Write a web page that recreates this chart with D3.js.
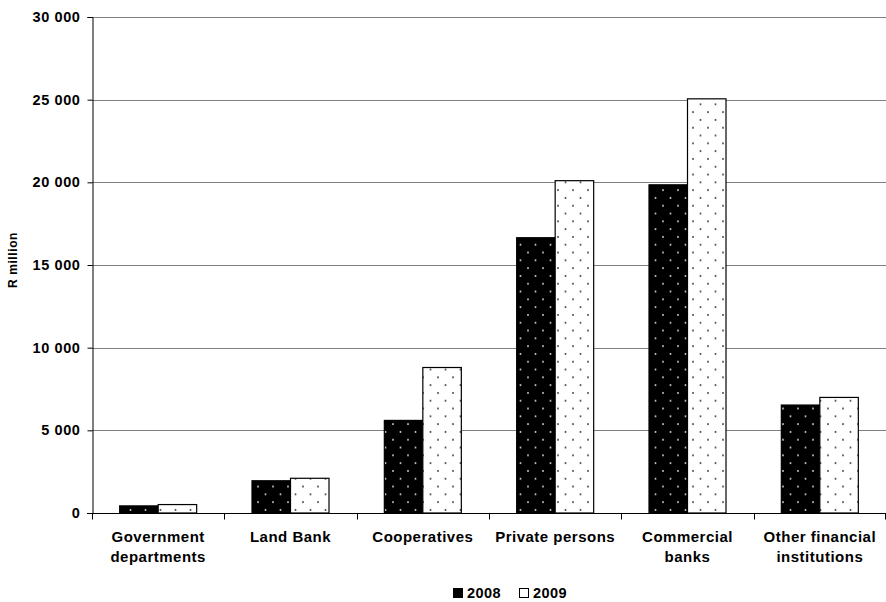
<!DOCTYPE html>
<html>
<head>
<meta charset="utf-8">
<script src="https://cdn.jsdelivr.net/npm/d3@7"></script>
<style>
  body { margin: 0; background: #fff; }
  svg text { font-family: "Liberation Sans", Arial, sans-serif; font-weight: bold; fill: #000; }
</style>
</head>
<body>
<svg id="chart" width="886" height="602"></svg>
<script>
// Data
const categories = [
    ['Government', 'departments'],
    ['Land Bank'],
    ['Cooperatives'],
    ['Private persons'],
    ['Commercial', 'banks'],
    ['Other financial', 'institutions']
];
const years = ['2008', '2009'];
const values2008 = [430, 1950, 5600, 16650, 19850, 6530];
const values2009 = [510, 2100, 8800, 20100, 25050, 6990];
const yTicks = [0, 5000, 10000, 15000, 20000, 25000, 30000];

const svg = d3.select('#chart');
const margin = { left: 92, right: 0, top: 17, bottom: 89 };
const width = 886, height = 602;

const x = d3.scaleBand()
    .domain(d3.range(categories.length))
    .range([margin.left, width - margin.right]);

const xInner = d3.scaleBand()
    .domain(years)
    .range([0, 77])
    .padding(0);

const y = d3.scaleLinear()
    .domain([0, 30000])
    .range([height - margin.bottom, margin.top]);

// Patterns: black with light dots, white with dark dots
const defs = svg.append('defs');
function dotPattern(id, bg, dot) {
    const p = defs.append('pattern')
        .attr('id', id)
        .attr('patternUnits', 'userSpaceOnUse')
        .attr('width', 15)
        .attr('height', 15.6);
    p.append('rect').attr('width', 15).attr('height', 15.6).attr('fill', bg);
    p.append('circle').attr('cx', 3).attr('cy', 3).attr('r', 1).attr('fill', dot);
    p.append('circle').attr('cx', 10.5).attr('cy', 10.8).attr('r', 1).attr('fill', dot);
}
dotPattern('pat2008', '#000', '#ccc');
dotPattern('pat2009', '#fff', '#444');

// Gridlines
svg.append('g')
    .selectAll('line')
    .data(yTicks.filter(d => d > 0))
    .enter().append('line')
    .attr('x1', margin.left)
    .attr('x2', width - margin.right)
    .attr('y1', d => Math.round(y(d)) + 0.5)
    .attr('y2', d => Math.round(y(d)) + 0.5)
    .attr('stroke', '#808080')
    .attr('stroke-width', 1);

// Bars
const series = [
    { year: '2008', values: values2008, fill: 'url(#pat2008)' },
    { year: '2009', values: values2009, fill: 'url(#pat2009)' }
];
const offset = (x.bandwidth() - 77) / 2;
series.forEach(s => {
    svg.append('g')
        .selectAll('rect')
        .data(s.values)
        .enter().append('rect')
        .attr('x', (d, i) => x(i) + offset + xInner(s.year))
        .attr('y', d => y(d))
        .attr('width', xInner.bandwidth())
        .attr('height', d => y(0) - y(d))
        .attr('fill', s.fill)
        .attr('stroke', '#000')
        .attr('stroke-width', 1.2);
});

// Y axis
const yAxis = d3.axisLeft(y)
    .tickValues(yTicks)
    .tickSize(5)
    .tickPadding(7)
    .tickFormat(d => d3.format(',')(d).replace(/,/g, ' '));
const gy = svg.append('g')
    .attr('transform', `translate(${margin.left + 0.5},0)`)
    .call(yAxis);
gy.select('.domain').attr('stroke', '#000');
gy.selectAll('.tick line').attr('stroke', '#000');
gy.selectAll('.tick text')
    .style('font-size', '14.5px')
    .style('letter-spacing', '0.6px');

// X axis
const baseY = Math.round(y(0)) + 0.5;
svg.append('line')
    .attr('x1', margin.left - 5).attr('x2', width)
    .attr('y1', baseY).attr('y2', baseY)
    .attr('stroke', '#000');
svg.append('g')
    .selectAll('line')
    .data(d3.range(categories.length + 1))
    .enter().append('line')
    .attr('x1', i => Math.round(i < categories.length ? x(i) : width - 1) + 0.5)
    .attr('x2', i => Math.round(i < categories.length ? x(i) : width - 1) + 0.5)
    .attr('y1', baseY)
    .attr('y2', baseY + 6)
    .attr('stroke', '#000');

// Category labels
const labels = svg.append('g')
    .selectAll('text')
    .data(categories)
    .enter().append('text')
    .attr('text-anchor', 'middle')
    .attr('x', (d, i) => x(i) + x.bandwidth() / 2)
    .attr('y', 542)
    .style('font-size', '15px')
    .style('letter-spacing', '0.5px');
labels.selectAll('tspan')
    .data(d => d)
    .enter().append('tspan')
    .attr('x', function() { return d3.select(this.parentNode).attr('x'); })
    .attr('dy', (d, i) => i === 0 ? 0 : 20)
    .text(d => d);

// Y axis title
svg.append('text')
    .attr('transform', 'translate(17,260) rotate(-90)')
    .attr('text-anchor', 'middle')
    .style('font-size', '12px')
    .style('letter-spacing', '0.6px')
    .text('R million');

// Legend
const legend = svg.append('g').attr('transform', 'translate(453,598)');
const legendItems = [
    { label: '2008', fill: '#000', dx: 0 },
    { label: '2009', fill: '#fff', dx: 66 }
];
legendItems.forEach(it => {
    legend.append('rect')
        .attr('x', it.dx + 0.5).attr('y', -9.5)
        .attr('width', 9).attr('height', 9)
        .attr('fill', it.fill).attr('stroke', '#000');
    legend.append('text')
        .attr('x', it.dx + 14)
        .attr('y', 0)
        .style('font-size', '14.5px')
        .style('letter-spacing', '0.4px')
        .text(it.label);
});
</script>
</body>
</html>
